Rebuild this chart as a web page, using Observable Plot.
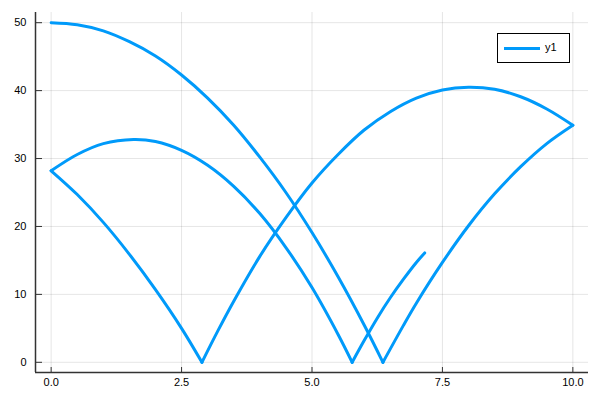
<!DOCTYPE html>
<html>
<head>
<meta charset="utf-8">
<script src="https://cdn.jsdelivr.net/npm/d3@7"></script>
<script src="https://cdn.jsdelivr.net/npm/@observablehq/plot@0.6"></script>
<style>
  body { margin: 0; background: #fff; }
  #wrap { position: relative; width: 600px; height: 400px; font-family: "Liberation Sans", Arial, Helvetica, sans-serif; }
  #legend { position: absolute; left: 497px; top: 33px; width: 73px; height: 30px; box-sizing: border-box;
            border: 1px solid #000; background: #fff; }
  #legend .swatch { position: absolute; left: 6px; top: 12.5px; width: 36px; height: 3px; background: #009AFA; }
  #legend .lab { position: absolute; left: 47px; top: 7px; font-size: 11px; line-height: 13px; color: #000; }
</style>
</head>
<body>
<div id="wrap">
  <div id="chart"></div>
  <div id="legend"><div class="swatch"></div><div class="lab" id="legendLabel"></div></div>
</div>
<script>
// ---- data (one path, in drawing order) ----
const seriesName = "y1";
const arc1X = [0, 0.5, 1, 1.5, 2, 2.5, 3, 3.5, 4, 4.5, 5, 5.5, 6, 6.36];
const arc1Y = [50, 49.7, 48.8, 47.2, 45.1, 42.3, 38.9, 34.9, 30.2, 25.0, 19.1, 12.6, 5.5, 0];
const arc2X = [6.75, 7, 7.5, 8, 8.5, 9, 9.5, 10];
const arc2Y = [5.4, 8.7, 14.7, 20.1, 24.8, 28.8, 32.2, 34.9];
const arc3X = [9.5, 9, 8.5, 8, 7.5, 7, 6.5, 6, 5.5, 5, 4.5, 4, 3.5, 3.2, 2.89];
const arc3Y = [37.3, 39.1, 40.2, 40.5, 40.1, 38.9, 36.9, 34.2, 30.6, 26.4, 21.3, 15.6, 9.0, 4.7, 0];
const arc4X = [2.5, 2, 1.5, 1, 0.5, 0];
const arc4Y = [5.0, 10.7, 15.9, 20.6, 24.7, 28.2];
const arc5X = [0.5, 1, 1.58, 2, 2.5, 3, 3.5, 4, 4.5, 5, 5.5, 5.77];
const arc5Y = [30.6, 32.2, 32.8, 32.5, 31.2, 29.0, 25.9, 21.9, 16.9, 11.0, 4.1, 0];
const arc6X = [6, 6.25, 6.5, 6.75, 7, 7.16];
const arc6Y = [3.2, 6.5, 9.5, 12.2, 14.7, 16.1];

const xTicks = [0, 2.5, 5, 7.5, 10];
const xTickLabels = ["0.0", "2.5", "5.0", "7.5", "10.0"];
const yTicks = [0, 10, 20, 30, 40, 50];
const yTickLabels = ["0", "10", "20", "30", "40", "50"];
const xDomain = [-0.3, 10.3];
const yDomain = [-1.5, 51.5];

// ---- build table: each arc is smoothed on its own; the bounce point that
// ends one arc also starts the next, so the path stays continuous ----
const arcsX = [arc1X, arc2X, arc3X, arc4X, arc5X, arc6X];
const arcsY = [arc1Y, arc2Y, arc3Y, arc4Y, arc5Y, arc6Y];
const path = [];
let prev = null;
arcsX.forEach((xs, i) => {
  if (prev) path.push({x: prev.x, y: prev.y, arc: i, series: seriesName});
  xs.forEach((x, j) => path.push({x, y: arcsY[i][j], arc: i, series: seriesName}));
  prev = {x: xs[xs.length - 1], y: arcsY[i][xs.length - 1]};
});

const W = 600, H = 400;
const mL = 35, mR = 12, mT = 12, mB = 28;
const plotW = W - mL - mR, plotH = H - mT - mB;
const gridColor = "#000";
const axisColor = "#333";

const chart = Plot.plot({
  width: W,
  height: H,
  marginLeft: mL,
  marginRight: mR,
  marginTop: mT,
  marginBottom: mB,
  style: { fontFamily: '"Liberation Sans", Arial, Helvetica, sans-serif', fontSize: "11px", color: "#000", background: "#fff" },
  x: { domain: xDomain, label: null },
  y: { domain: yDomain, label: null },
  marks: [
    // grid
    Plot.ruleX(xTicks, { x: d => d, stroke: gridColor, strokeOpacity: 0.1, strokeWidth: 1 }),
    Plot.ruleY(yTicks, { y: d => d, stroke: gridColor, strokeOpacity: 0.1, strokeWidth: 1 }),
    // axis lines (left and bottom)
    Plot.ruleX([xDomain[0]], { x: d => d, stroke: axisColor, strokeWidth: 1.5 }),
    Plot.ruleY([yDomain[0]], { y: d => d, stroke: axisColor, strokeWidth: 1.5 }),
    // inward tick marks
    Plot.ruleX(xTicks, { x: d => d, insetTop: plotH - 5, stroke: axisColor, strokeWidth: 1 }),
    Plot.ruleY(yTicks, { y: d => d, insetRight: plotW - 7, stroke: axisColor, strokeWidth: 1 }),
    // tick labels
    Plot.axisX(xTicks, { tickSize: 0, tickPadding: 6, tickFormat: (d, i) => xTickLabels[i], fill: "#000", label: null }),
    Plot.axisY(yTicks, { tickSize: 0, tickPadding: 9, tickFormat: (d, i) => yTickLabels[i], fill: "#000", label: null }),
    // data
    Plot.line(path, { x: "x", y: "y", z: "arc", stroke: "#009AFA", strokeWidth: 3,
                      strokeLinejoin: "round", strokeLinecap: "round", curve: "catmull-rom" })
  ]
});
document.getElementById("chart").appendChild(chart);
document.getElementById("legendLabel").textContent = seriesName;
</script>
</body>
</html>
